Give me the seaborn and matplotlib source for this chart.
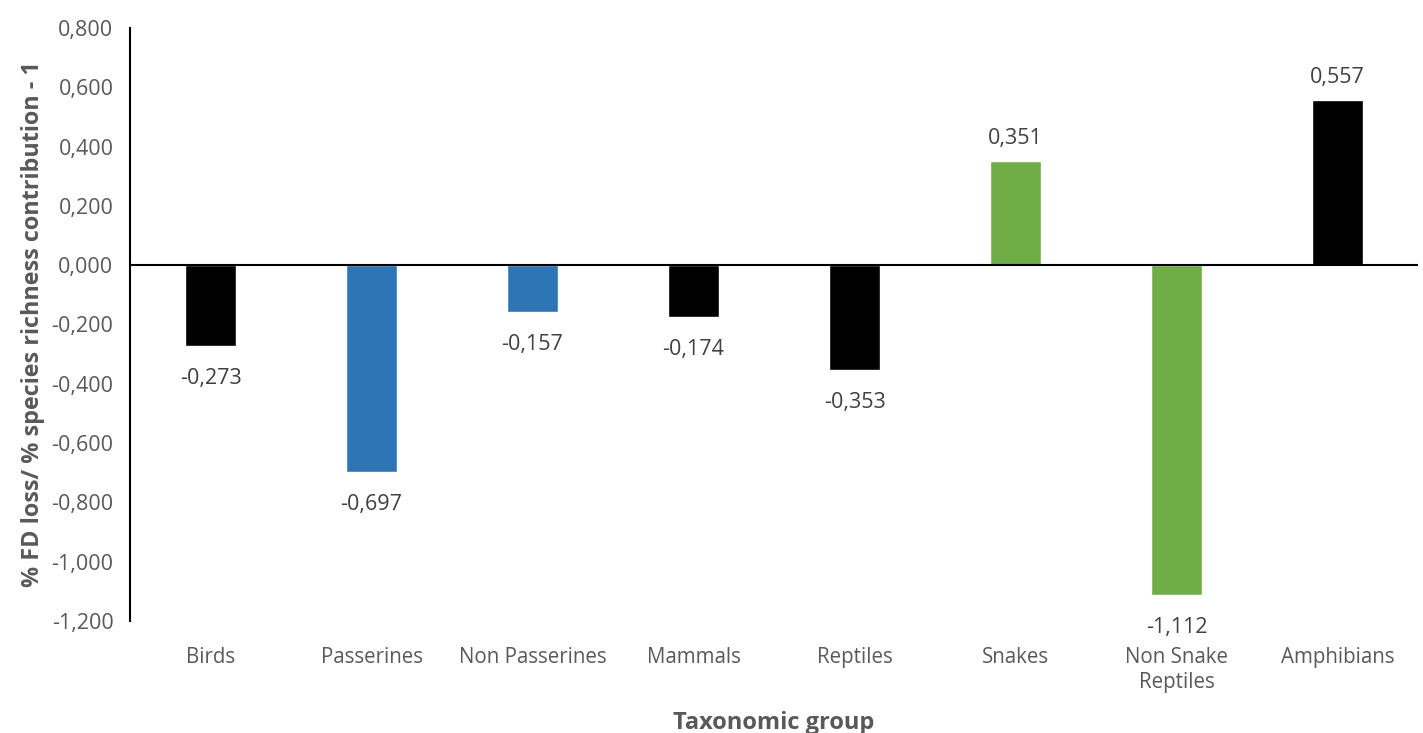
import matplotlib
matplotlib.use("Agg")
import matplotlib.pyplot as plt
import seaborn as sns
import pandas as pd

categories = ["Birds", "Passerines", "Non Passerines", "Mammals", "Reptiles",
              "Snakes", "Non Snake\nReptiles", "Amphibians"]
values = [-0.273, -0.697, -0.157, -0.174, -0.353, 0.351, -1.112, 0.557]
bar_colors = ["#000000", "#2E75B6", "#2E75B6", "#000000", "#000000",
              "#70AD47", "#70AD47", "#000000"]
y_ticks = [-1.2, -1.0, -0.8, -0.6, -0.4, -0.2, 0.0, 0.2, 0.4, 0.6, 0.8]

sns.set_theme(style="white")
plt.rcParams["font.family"] = ["Open Sans", "DejaVu Sans"]

df = pd.DataFrame({"group": categories, "value": values})

fig = plt.figure(figsize=(14.23, 7.33), dpi=100)
ax = fig.add_axes([0.0914, 0.1528, 0.9051, 0.8090])

sns.barplot(data=df, x="group", y="value", hue="group",
            palette=dict(zip(categories, bar_colors)), legend=False,
            width=0.32, saturation=1, ax=ax)

def fmt(v):
    return f"{v:.3f}".replace(".", ",")

# value labels: above positive bars, below negative ones
for cont in ax.containers:
    vals = [b.get_height() for b in cont]
    pad = 9 if vals[0] >= 0 else 16
    ax.bar_label(cont, labels=[fmt(v) for v in vals], padding=pad,
                 fontsize=15.5, color="#404040")

ax.set_ylim(-1.2, 0.8)
ax.set_xlim(-0.5, len(categories) - 0.5)
ax.set_yticks(y_ticks)
ax.set_yticklabels([fmt(t) for t in y_ticks])
ax.axhline(0, color="black", lw=1.5, zorder=3)

for side in ["top", "right", "bottom"]:
    ax.spines[side].set_visible(False)
ax.spines["left"].set_color("black")
ax.spines["left"].set_linewidth(1.5)

ax.tick_params(axis="y", length=0, pad=12, labelsize=15.5, labelcolor="#595959")
ax.tick_params(axis="x", length=0, pad=19, labelsize=14.8, labelcolor="#595959")

ax.set_ylabel("% FD loss/ % species richness contribution - 1", fontsize=16.8,
              fontweight="bold", color="#595959")
ax.set_xlabel("Taxonomic group", fontsize=17, fontweight="bold",
              color="#595959")
ax.yaxis.set_label_coords(-0.066, 0.5)
ax.xaxis.set_label_coords(0.5, -0.151)

fig.savefig("out.png", dpi=100)
